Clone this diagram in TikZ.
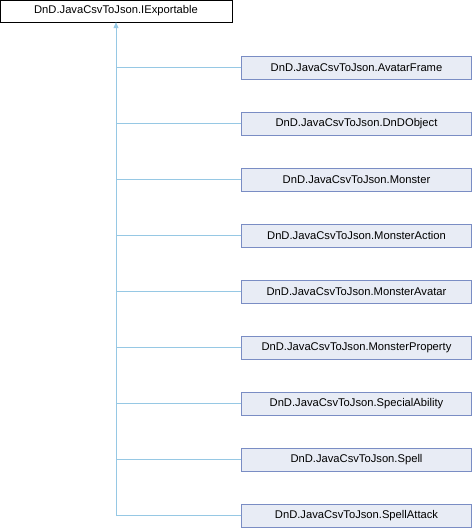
\documentclass[tikz,border=0pt]{standalone}
\usepackage{fontspec}
\setmainfont{Liberation Sans}
\usepackage{tikz}
\usetikzlibrary{arrows.meta}
\usetikzlibrary{positioning}
\definecolor{clsfill}{RGB}{232,236,245}
\definecolor{clsdraw}{RGB}{122,141,196}
\definecolor{edgeblue}{RGB}{150,200,228}

\tikzset{
  basebox/.style={draw=black, fill=white, minimum width=232pt, minimum height=22pt,
    inner sep=0pt, font=\fontsize{11.2}{13}\selectfont},
  clsbox/.style={draw=clsdraw, fill=clsfill, minimum width=230pt, minimum height=23pt,
    inner sep=0pt, font=\fontsize{11.2}{13}\selectfont},
  inherit/.style={draw=edgeblue, line width=0.8pt},
}

\begin{document}
\begin{tikzpicture}[x=1pt, y=-1pt]
    \useasboundingbox (0,0) rectangle (472,528);

    \node[basebox] (iexp) at (116,11) {DnD.JavaCsvToJson.IExportable};

    % derived classes
    \foreach \cls [count=\i from 0] in {AvatarFrame, DnDObject, Monster, MonsterAction,
        MonsterAvatar, MonsterProperty, SpecialAbility, Spell, SpellAttack}
    {
        \node[clsbox] (c\i) at (356.5,{67.5+56*\i}) {DnD.JavaCsvToJson.\cls};
        \draw[inherit] (c\i.west) -- (116,{67.5+56*\i});
    }

    \coordinate (trunk) at (116,516);
    \draw[inherit, -{Triangle[length=6pt, width=5pt, open, fill=edgeblue]}]
        (trunk) -- (iexp.south);
  \end{tikzpicture}
\end{document}
